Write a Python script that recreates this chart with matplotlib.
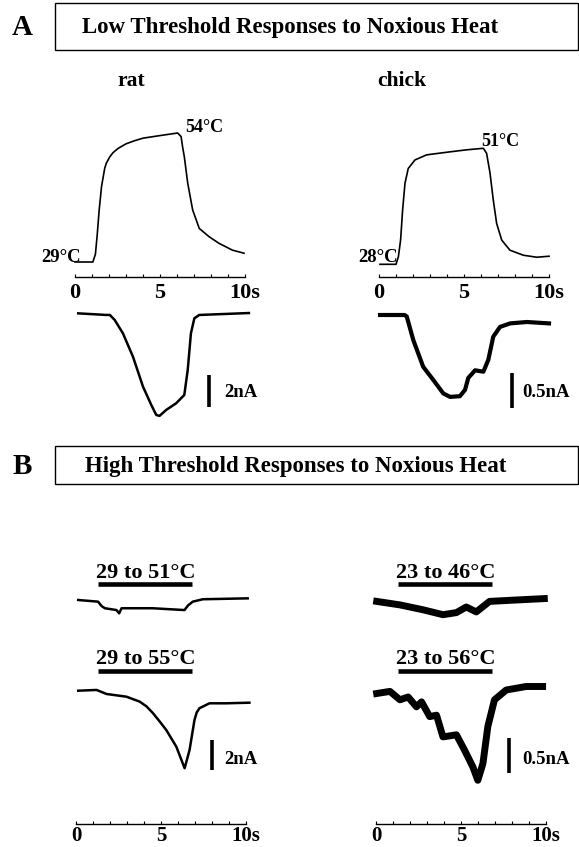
import matplotlib
matplotlib.use('Agg')
from matplotlib import pyplot as plt
from matplotlib.patches import Rectangle

# ---- data (time in s) ----
# A, rat: stimulus temperature (degC) and current (nA)
rat_temp_t = [0, 1.05, 1.2, 1.3, 1.42, 1.56, 1.66, 1.75, 1.85, 2.05, 2.24, 2.53, 3.0, 3.5, 4.0, 5.0, 6.04,
              6.24, 6.33, 6.43, 6.63, 6.92, 7.31, 7.89, 8.48, 9.26, 9.94]
rat_temp = [29, 29, 30.5, 34.0, 39.0, 43.6, 45.5, 47.2, 48.2, 49.4, 50.2, 51.0, 51.9, 52.5, 53.0, 53.5, 54.0,
            53.3, 51.3, 49.4, 44.3, 39.1, 35.5, 33.9, 32.6, 31.3, 30.7]
rat_cur_t = [0.19, 1.85, 2.05, 2.34, 2.82, 3.41, 4.0, 4.49, 4.78, 4.97, 5.36, 5.95, 6.43, 6.63, 6.82, 7.02,
             7.31, 10.23]
rat_cur = [0.04, -0.06, -0.06, -0.38, -1.21, -2.67, -4.54, -5.69, -6.31, -6.37, -6.0, -5.58, -5.06, -3.5,
           -1.2, -0.27, -0.06, 0.06]

# A, chick
chick_temp_t = [0.06, 1.0, 1.14, 1.27, 1.39, 1.53, 1.72, 2.12, 2.8, 4.18, 5.16, 6.14, 6.33, 6.53, 6.72,
                6.92, 7.22, 7.7, 8.49, 9.28, 10.0]
chick_temp = [28, 28, 29.5, 32.8, 38.8, 44.1, 47.0, 48.7, 49.7, 50.3, 50.7, 51, 50.0, 46.1, 40.8,
              36.1, 32.8, 30.8, 29.8, 29.4, 29.6]
chick_cur_t = [0.06, 1.5, 1.63, 2.02, 2.6, 3.2, 3.78, 4.18, 4.76, 5.06, 5.25, 5.65, 6.14, 6.43, 6.72,
               7.12, 7.71, 8.7, 10.0]
chick_cur = [0, 0, -0.02, -0.36, -0.74, -0.93, -1.12, -1.17, -1.16, -1.07, -0.9, -0.79, -0.81, -0.64,
             -0.31, -0.17, -0.12, -0.10, -0.12]

# B, rat: 29 to 51 and 29 to 55 degC
rat51_t = [0.13, 1.3, 1.5, 1.7, 2.38, 2.54, 2.68, 4.5, 6.38, 6.6, 6.87, 7.46, 10.1]
rat51 = [0, -0.11, -0.4, -0.55, -0.67, -0.89, -0.55, -0.55, -0.67, -0.35, -0.11, 0.05, 0.11]
rat55_t = [0.13, 1.21, 1.8, 2.97, 3.75, 4.15, 4.53, 4.92, 5.31, 5.9, 6.39, 6.68, 6.97, 7.1, 7.26, 7.85,
           8.83, 10.2]
rat55 = [0, 0.05, -0.22, -0.4, -0.73, -1.05, -1.5, -2.05, -2.62, -3.73, -5.17, -3.95, -1.95, -1.45, -1.17,
         -0.84, -0.84, -0.8]

# B, chick: 23 to 46 and 23 to 56 degC
chick46_t = [0.04, 1.41, 2.77, 3.94, 4.73, 5.31, 5.90, 6.68, 8.24, 9.90]
chick46 = [-0.02, -0.07, -0.14, -0.21, -0.18, -0.10, -0.17, -0.02, 0, 0.02]
chick56_t = [0.04, 0.82, 1.41, 1.89, 2.38, 2.68, 3.16, 3.56, 3.94, 4.73, 5.21, 5.70, 5.99, 6.29, 6.58,
             6.97, 7.66, 8.83, 9.80]
chick56 = [-0.05, -0.02, -0.14, -0.10, -0.24, -0.17, -0.38, -0.36, -0.67, -0.64, -0.86, -1.10, -1.29,
           -1.05, -0.52, -0.14, 0, 0.05, 0.05]

heat_on = [1.31, 6.84]  # heat step bar in B
ticks_major = [0, 5, 10]
tick_labels = ['0', '5', '10s']

W, H = 579, 847
plt.rcParams['font.family'] = ['Liberation Serif', 'DejaVu Serif']
plt.rcParams['font.weight'] = 'bold'
fig = plt.figure(figsize=(W / 100, H / 100), dpi=100)


def place(x0, val_a, row_a, val_b, row_b, top, bottom):
    """axes with t 0..10 over x0..x0+170 px; two (value,row) pairs fix the y scale"""
    s = (row_a - row_b) / (val_b - val_a)
    ax = fig.add_axes([x0 / W, 1 - bottom / H, 170 / W, (bottom - top) / H])
    ax.set_xlim(0, 10)
    ax.set_ylim(val_a - (bottom - row_a) / s, val_a + (row_a - top) / s)
    ax.axis('off')
    return ax


def time_axis(ax, size=16, pad=4):
    ax.axis('on')
    for k in ['top', 'left', 'right']:
        ax.spines[k].set_visible(False)
    ax.spines['bottom'].set_linewidth(1.0)
    ax.set_yticks([])
    ax.set_xticks(ticks_major)
    ax.set_xticklabels(tick_labels, fontsize=size, fontweight='bold')
    ax.set_xticks(range(1, 10), minor=True)
    ax.tick_params(axis='x', which='both', direction='in', length=2.5, width=0.8, pad=pad)
    ax.patch.set_visible(False)


def fpx(x, y):
    return x / W, 1 - y / H


# titles and boxes
for (y0, y1, label, title, tx) in [(3, 50, 'A', 'Low Threshold Responses to Noxious Heat', 290),
                                    (446, 484, 'B', 'High Threshold Responses to Noxious Heat', 296)]:
    fig.patches.append(Rectangle(fpx(55, y1), (W - 56) / W, (y1 - y0) / H, transform=fig.transFigure,
                                 fill=False, lw=1.0, ec='black'))
    fig.text(*fpx(22, (y0 + y1) / 2 + 1), label, fontsize=21, ha='center', va='center')
    fig.text(*fpx(tx, (y0 + y1) / 2 + 1), title, fontsize=16.5, ha='center', va='center')

fig.text(*fpx(131, 81), 'rat', fontsize=15.5, ha='center', va='center')
fig.text(*fpx(402, 81), 'chick', fontsize=15.5, ha='center', va='center')

# ---- A: temperature traces ----
ax = place(75, 29, 262, 54, 133, 110, 277)
ax.plot(rat_temp_t, rat_temp, color='black', lw=1.2, clip_on=False)
time_axis(ax)
fig.text(*fpx(81, 257), '29°C', fontsize=13.5, ha='right', va='center')
fig.text(*fpx(185, 127), '54°C', fontsize=13, ha='left', va='center')

ax = place(379, 28, 264.3, 51, 148.3, 110, 277)
ax.plot(chick_temp_t, chick_temp, color='black', lw=1.2, clip_on=False)
time_axis(ax)
fig.text(*fpx(398, 257), '28°C', fontsize=13.5, ha='right', va='center')
fig.text(*fpx(481, 141), '51°C', fontsize=13, ha='left', va='center')

# ---- A: currents ----
ax = place(75, 0, 314, -2, 346, 300, 425)
ax.plot(rat_cur_t, rat_cur, color='black', lw=1.8, clip_on=False)
ax.plot([7.9, 7.9], [-3.8, -5.8], color='black', lw=2.6, solid_capstyle='butt')
fig.text(*fpx(224, 392), '2nA', fontsize=13.5, ha='left', va='center')

ax = place(379, 0, 315, -0.5, 350, 300, 425)
ax.plot(chick_cur_t, chick_cur, color='black', lw=3.0, clip_on=False)
ax.plot([7.82, 7.82], [-0.83, -1.33], color='black', lw=2.6, solid_capstyle='butt')
fig.text(*fpx(522, 392), '0.5nA', fontsize=13.5, ha='left', va='center')

# ---- B: currents with heat bars ----
for (x0, zero1, zero2, ppu, d1, d2, lab1, lab2, tlw, bar, sc, sx) in [
        (76, 600, 690.7, 15, (rat51_t, rat51), (rat55_t, rat55), '29 to 51°C', '29 to 55°C', 1.8,
         (8.01, -3.3, -5.3), '2nA', 224),
        (376, 600, 690, 70, (chick46_t, chick46), (chick56_t, chick56), '23 to 46°C', '23 to 56°C', 5.0,
         (7.85, -0.69, -1.19), '0.5nA', 522)]:
    ax1 = place(x0, 0, zero1, -1, zero1 + ppu, 560, 625)
    ax1.plot(*d1, color='black', lw=tlw, clip_on=False)
    ax1.plot(heat_on, [(zero1 - 584) / ppu] * 2, color='black', lw=3.3, solid_capstyle='butt')
    ax1.text(sum(heat_on) / 2, (zero1 - 573) / ppu, lab1, fontsize=16, ha='center', va='center')
    ax2 = place(x0, 0, zero2, -1, zero2 + ppu, 645, 790)
    ax2.plot(*d2, color='black', lw=tlw, clip_on=False)
    ax2.plot(heat_on, [(zero2 - 671) / ppu] * 2, color='black', lw=3.3, solid_capstyle='butt')
    ax2.text(sum(heat_on) / 2, (zero2 - 659) / ppu, lab2, fontsize=16, ha='center', va='center')
    ax2.plot([bar[0], bar[0]], bar[1:], color='black', lw=2.6, solid_capstyle='butt')
    fig.text(*fpx(sx, 760), sc, fontsize=13.5, ha='left', va='center')
    axt = place(x0, 0, 824, -1, 834, 800, 824)
    time_axis(axt, size=15, pad=1.5)

fig.savefig('out.png', dpi=100)
